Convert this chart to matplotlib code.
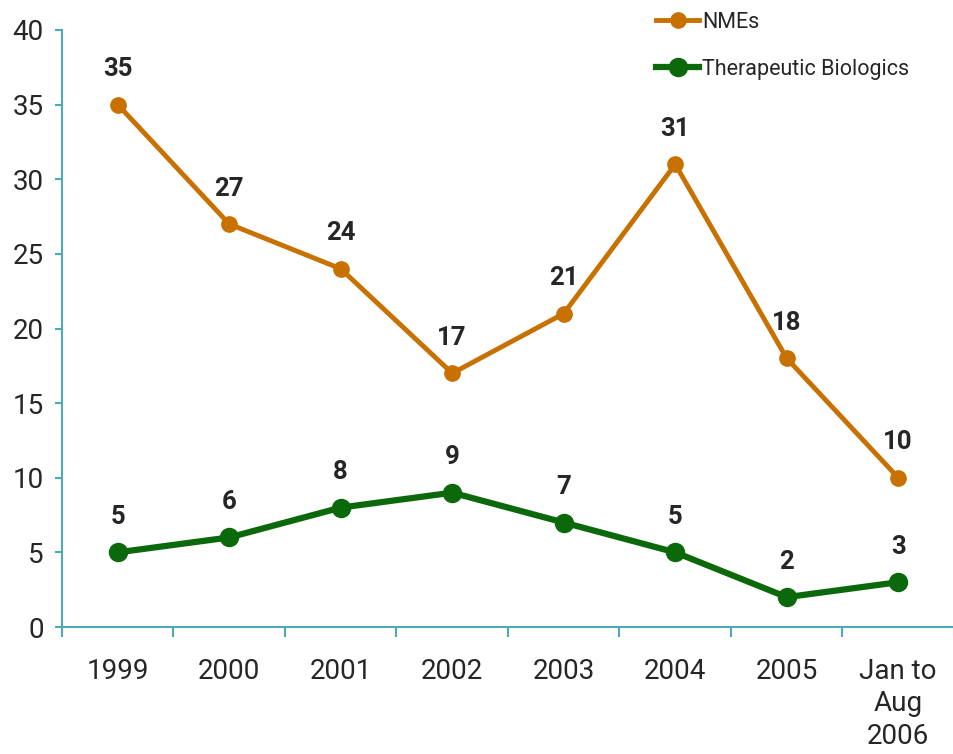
import matplotlib.pyplot as plt
from matplotlib.ticker import FixedLocator

# approvals per year
years = ["1999", "2000", "2001", "2002", "2003", "2004", "2005", "Jan to\nAug\n2006"]
nmes = [35, 27, 24, 17, 21, 31, 18, 10]
biologics = [5, 6, 8, 9, 7, 5, 2, 3]

orange = "#C87000"
green = "#0B690B"
teal = "#4FAAB8"
ink = "#262626"
font = "Roboto"

fig = plt.figure(figsize=(9.54, 7.54), dpi=100)
ax = fig.add_axes([62 / 954, 1 - 627 / 754, 1 - 62 / 954, (627 - 30) / 754])

x = list(range(len(years)))
ax.plot(x, nmes, color=orange, lw=3.5, marker="o", ms=11, label="NMEs", zorder=3)
ax.plot(x, biologics, color=green, lw=4.5, marker="o", ms=13,
        label="Therapeutic Biologics", zorder=3)

for series in (nmes, biologics):
    for xi, v in zip(x, series):
        ax.annotate(str(v), (xi, v), xytext=(0, 25.5), textcoords="offset points",
                    ha="center", va="center", fontsize=18.5, fontweight="bold",
                    family=font, color=ink)

ax.set_xlim(-0.5, 7.5)
ax.set_ylim(0, 40)
ax.set_yticks(range(0, 41, 5))
ax.xaxis.set_major_locator(FixedLocator([i - 0.5 for i in range(len(years) + 1)]))
ax.xaxis.set_minor_locator(FixedLocator(x))
ax.set_xticklabels([])
ax.set_xticklabels(years, minor=True)

for s in ["top", "right"]:
    ax.spines[s].set_visible(False)
for s in ["left", "bottom"]:
    ax.spines[s].set_color(teal)
    ax.spines[s].set_linewidth(1.5)

ax.tick_params(axis="x", which="major", length=7, width=1.5, color=teal, direction="out")
ax.tick_params(axis="x", which="minor", length=0, pad=22, labelsize=20, labelcolor=ink)
ax.tick_params(axis="y", length=5, width=1.5, color=teal, labelsize=20,
               labelcolor=ink, pad=8)
for lab in ax.get_xticklabels(minor=True) + ax.get_yticklabels():
    lab.set_family(font)
for lab in ax.get_xticklabels(minor=True):
    lab.set_verticalalignment("top")
    lab.set_linespacing(1.28)

leg = fig.legend(loc="upper left", bbox_to_anchor=(637 / 954, 1.01), frameon=False,
                 handlelength=2.0, handletextpad=0.12, labelspacing=1.2,
                 prop={"family": font, "size": 15.5})
for t in leg.get_texts():
    t.set_color(ink)

fig.savefig("out.png", dpi=100)
